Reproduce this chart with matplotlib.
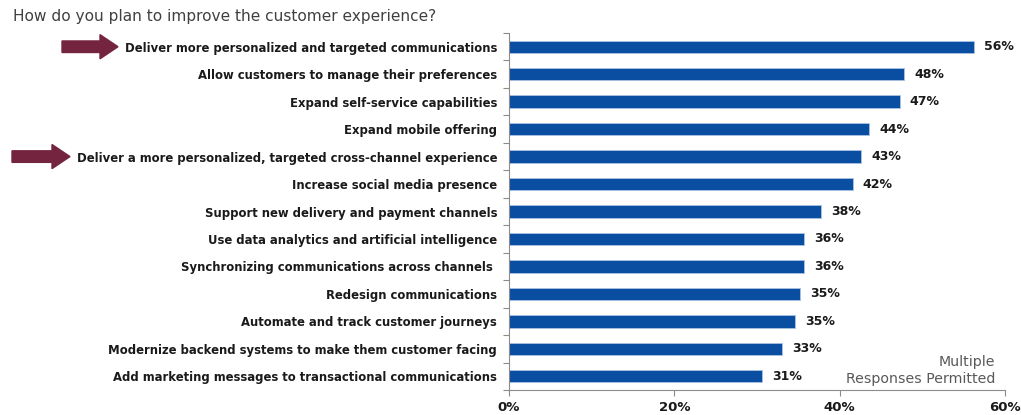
import matplotlib.pyplot as plt
import matplotlib.transforms as mtransforms
from matplotlib.patches import FancyArrow

plt.rcParams['font.family'] = ['DejaVu Sans']

question = "How do you plan to improve the customer experience?"
options = [
    "Deliver more personalized and targeted communications",
    "Allow customers to manage their preferences",
    "Expand self-service capabilities",
    "Expand mobile offering",
    "Deliver a more personalized, targeted cross-channel experience",
    "Increase social media presence",
    "Support new delivery and payment channels",
    "Use data analytics and artificial intelligence",
    "Synchronizing communications across channels ",
    "Redesign communications",
    "Automate and track customer journeys",
    "Modernize backend systems to make them customer facing",
    "Add marketing messages to transactional communications",
]
shares = [56.2, 47.8, 47.3, 43.6, 42.6, 41.6, 37.8, 35.7, 35.7, 35.2, 34.6, 33.0, 30.6]
highlighted = [0, 4]
xticks = [0, 20, 40, 60]
note = "Multiple\nResponses Permitted"

bar_color = "#0A4EA2"
arrow_color = "#74243F"
axis_color = "#8C8C8C"

fig = plt.figure(figsize=(10.21, 4.15), dpi=100)
ax = fig.add_axes([509 / 1021, 1 - 390 / 415, (1005 - 509) / 1021, (390 - 33) / 415])

y = list(range(len(options)))
ax.barh(y, shares, height=0.45, color=bar_color, edgecolor="#A9C2E3", linewidth=0.6)
ax.set_ylim(len(options) - 0.5, -0.5)
ax.set_xlim(0, 60)

for yi, v in zip(y, shares):
    ax.text(v + 1.2, yi, f"{v:.0f}%", va="center", ha="left",
            fontsize=9, fontweight="bold", color="#1A1A1A")

ax.set_yticks(y)
ax.set_yticklabels(options, fontsize=8.4, fontweight="bold", color="#1A1A1A")
ax.tick_params(axis="y", length=0, pad=8.5)
# tick marks between categories
ax.set_yticks([i - 0.5 for i in range(len(options) + 1)], minor=True)
ax.tick_params(axis="y", which="minor", length=4, color=axis_color, width=0.8)

ax.set_xticks(xticks)
ax.set_xticklabels([f"{t}%" for t in xticks], fontsize=9.5, fontweight="bold", color="#1A1A1A")
ax.tick_params(axis="x", length=4, color=axis_color, width=0.8, pad=4)

for side in ("top", "right"):
    ax.spines[side].set_visible(False)
for side in ("left", "bottom"):
    ax.spines[side].set_color(axis_color)
    ax.spines[side].set_linewidth(0.8)

fig.text(13 / 1021, 1 - 17 / 415, question, fontsize=11.1, color="#404040",
         va="center", ha="left")
ax.text(0.98, 0.012, note, transform=ax.transAxes, ha="right", va="bottom",
        fontsize=10.2, color="#595959", linespacing=1.25)

# arrows pointing at the highlighted options
trans = mtransforms.blended_transform_factory(fig.transFigure, ax.transData)
arrow_x = {0: (62 / 1021, 56 / 1021), 4: (12 / 1021, 58 / 1021)}
for idx in highlighted:
    x0, dx = arrow_x[idx]
    ax.add_patch(FancyArrow(x0, idx, dx, 0, width=0.42, head_width=0.88,
                            head_length=18 / 1021, length_includes_head=True,
                            color=arrow_color, transform=trans, clip_on=False))

fig.savefig("out.png", dpi=100)
